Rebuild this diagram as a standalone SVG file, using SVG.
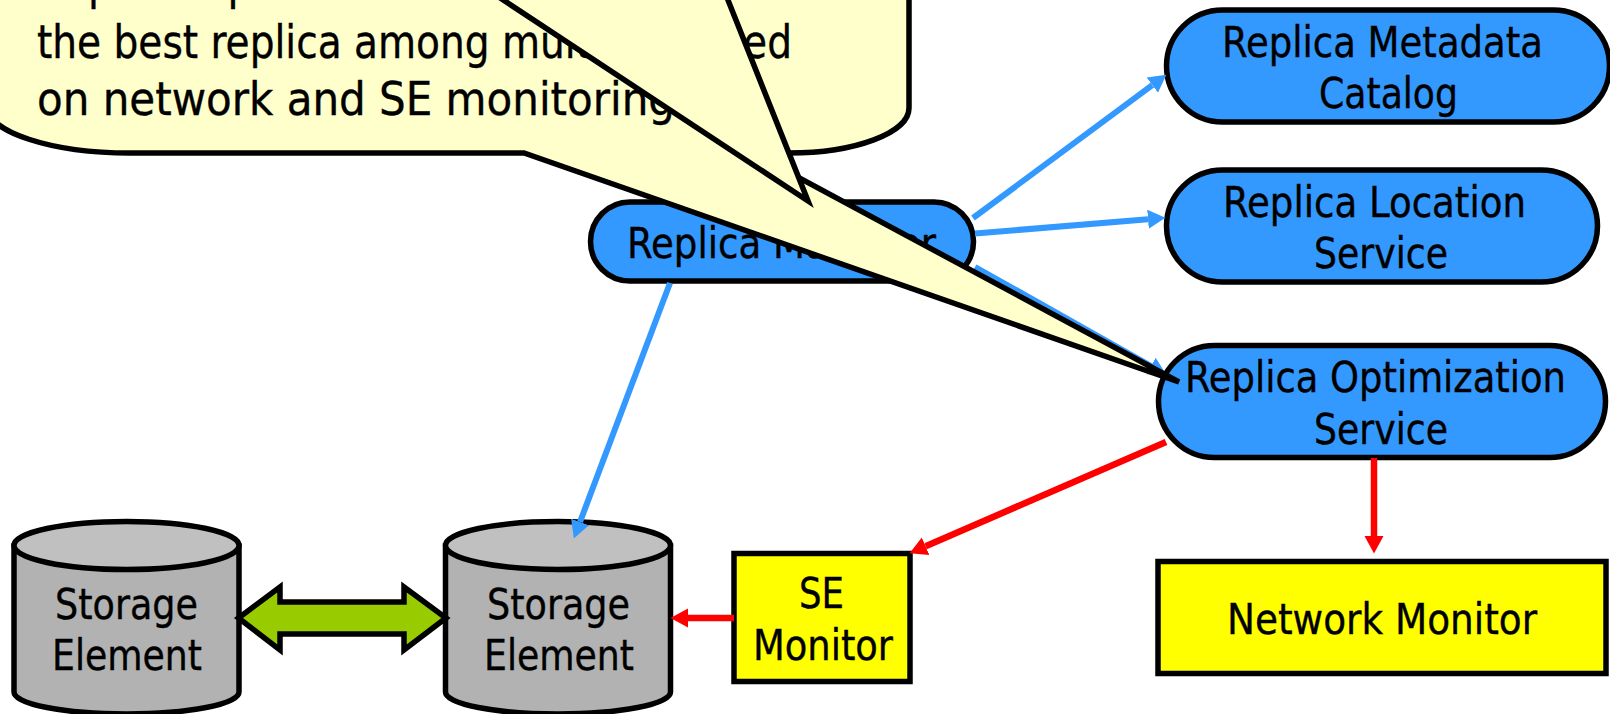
<svg xmlns="http://www.w3.org/2000/svg" width="1610" height="714" viewBox="0 0 1610 714">
<style>
text{font-family:"DejaVu Sans Condensed","DejaVu Sans","Liberation Sans",sans-serif;font-stretch:condensed;fill:#000;stroke:#000;stroke-width:.35}
.n{font-size:42px}
.c{font-size:46px}
.s{stroke:#000;stroke-width:5.500}
.pill{fill:#3399FF}
.box{fill:#FFFF00}
.body{fill:#B2B2B2}
.top{fill:#C0C0C0}
.bl{stroke:#3399FF;stroke-width:6;fill:none}
.rd{stroke:#FF0000;stroke-width:6.500;fill:none}
.ball{fill:#FFFFCC;stroke:#000;stroke-width:5.500;stroke-linejoin:miter}
</style>
<defs>
<marker id="ab" markerUnits="userSpaceOnUse" markerWidth="18" markerHeight="22" viewBox="0 0 18 22" refX="0" refY="11" orient="auto"><path d="M0,1.500L17.500,11L0,20.500Z" fill="#3399FF"/></marker>
<marker id="ar" markerUnits="userSpaceOnUse" markerWidth="18" markerHeight="22" viewBox="0 0 18 22" refX="0" refY="11" orient="auto"><path d="M0,1.500L17.500,11L0,20.500Z" fill="#FF0000"/></marker>
</defs>
<rect width="1610" height="714" fill="#fff"/>
<g id="storage-1">
<path class="s body" d="M14,546V692A112.500,22 0 0 0 239,692V546Z"/>
<ellipse class="s top" cx="126.500" cy="545.500" rx="112.500" ry="24"/>
<text class="n" x="55" y="619" textLength="143" lengthAdjust="spacingAndGlyphs">Storage</text>
<text class="n" x="52" y="670" textLength="150" lengthAdjust="spacingAndGlyphs">Element</text>
</g>
<g id="storage-2">
<path class="s body" d="M445.500,546V692A112.500,22 0 0 0 670.500,692V546Z"/>
<ellipse class="s top" cx="558" cy="545.500" rx="112.500" ry="24"/>
<text class="n" x="487" y="619" textLength="143" lengthAdjust="spacingAndGlyphs">Storage</text>
<text class="n" x="484" y="670" textLength="150" lengthAdjust="spacingAndGlyphs">Element</text>
</g>
<g id="se-monitor">
<rect class="s box" x="734" y="553.500" width="176" height="128"/>
<text class="n" x="799" y="608" textLength="45" lengthAdjust="spacingAndGlyphs">SE</text>
<text class="n" x="753" y="660" textLength="140" lengthAdjust="spacingAndGlyphs">Monitor</text>
</g>
<g id="network-monitor">
<rect class="s box" x="1158" y="561.500" width="448" height="112"/>
<text class="n" x="1227" y="634" textLength="310" lengthAdjust="spacingAndGlyphs">Network Monitor</text>
</g>
<g id="replica-metadata-catalog">
<rect class="s pill" x="1166.500" y="10" width="443" height="112" rx="56" ry="56"/>
<text class="n" x="1222" y="57" textLength="321" lengthAdjust="spacingAndGlyphs">Replica Metadata</text>
<text class="n" x="1319" y="108" textLength="139" lengthAdjust="spacingAndGlyphs">Catalog</text>
</g>
<g id="replica-location-service">
<rect class="s pill" x="1166.500" y="170" width="431" height="112" rx="56" ry="56"/>
<text class="n" x="1223" y="217" textLength="303" lengthAdjust="spacingAndGlyphs">Replica Location</text>
<text class="n" x="1314" y="268" textLength="134" lengthAdjust="spacingAndGlyphs">Service</text>
</g>
<g id="replica-optimization-service">
<rect class="s pill" x="1158.500" y="345.500" width="447" height="112" rx="56" ry="56"/>
<text class="n" x="1185" y="392" textLength="381" lengthAdjust="spacingAndGlyphs">Replica Optimization</text>
<text class="n" x="1314" y="444" textLength="134" lengthAdjust="spacingAndGlyphs">Service</text>
</g>
<g id="replica-manager">
<rect class="s pill" x="590.500" y="202" width="383" height="79" rx="39.500" ry="39.500"/>
<text class="n" x="627" y="258" textLength="309" lengthAdjust="spacingAndGlyphs">Replica Manager</text>
</g>
<g id="connectors">
<line class="bl" x1="973" y1="218" x2="1152.300" y2="85.100" marker-end="url(#ab)"/>
<line class="bl" x1="975" y1="233.500" x2="1148" y2="219.300" marker-end="url(#ab)"/>
<line class="bl" x1="975" y1="267" x2="1151" y2="366" marker-end="url(#ab)"/>
<line class="bl" x1="670" y1="283" x2="580" y2="522" marker-end="url(#ab)"/>
<line class="rd" x1="1166" y1="442" x2="925.600" y2="546.200" marker-end="url(#ar)"/>
<line class="rd" x1="1374" y1="458" x2="1374" y2="536" marker-end="url(#ar)"/>
<line class="rd" x1="734" y1="618" x2="688" y2="618" marker-end="url(#ar)"/>
<path d="M238.500,618L280,587V602H404V587L446,618L404,650V634H280V650Z" fill="#99CC00" stroke="#000" stroke-width="5.500"/>
</g>
<g id="callout">
<path class="ball" d="M-13,-30H909V108C909,133 855,153 789,153H753L1179,382L524,153H130C51,153 -13,132 -13,106Z"/>
<text class="c" x="37" y="-1.500" textLength="733" lengthAdjust="spacingAndGlyphs">Replica Optimization Service selects</text>
<text class="c" x="37" y="58" textLength="755" lengthAdjust="spacingAndGlyphs">the best replica among multiple based</text>
<text class="c" x="37" y="115" textLength="638" lengthAdjust="spacingAndGlyphs">on network and SE monitoring</text>
<path class="ball" d="M473,-20L808,201L720,-20"/>
</g>
</svg>
